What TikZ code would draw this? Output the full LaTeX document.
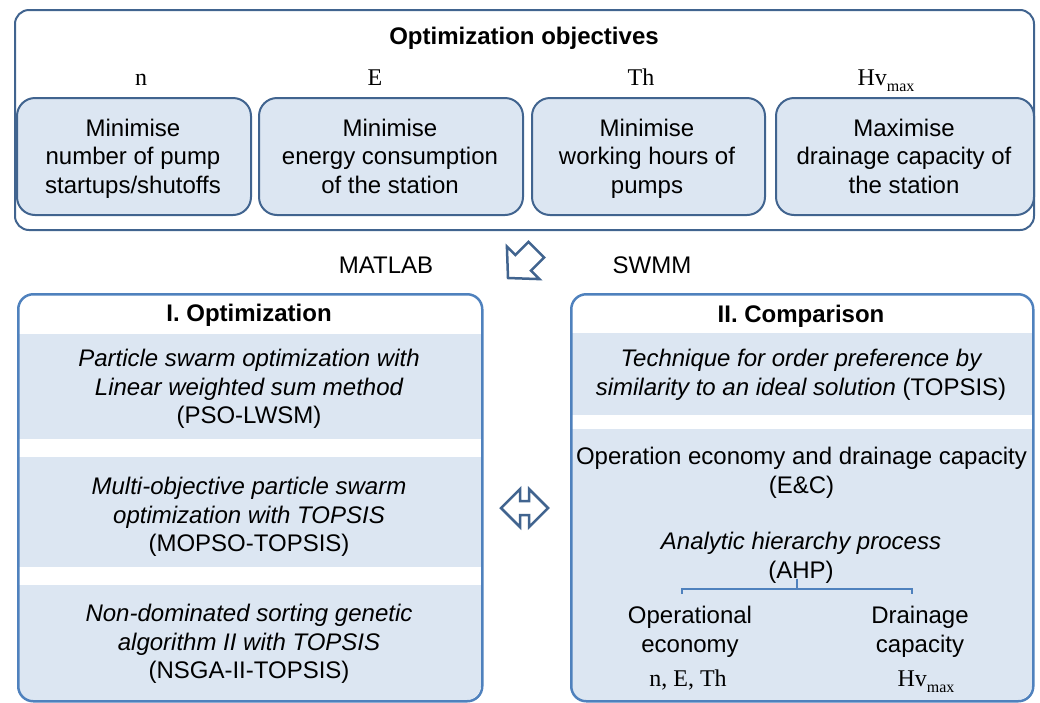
\documentclass[tikz,border=0pt]{standalone}
\usepackage{fontspec}
\setmainfont{Liberation Sans}
\newfontfamily\serifX{Liberation Serif}
\definecolor{dkb}{HTML}{41648F}
\definecolor{ltb}{HTML}{4F81BD}
\definecolor{fillb}{HTML}{DCE6F2}
\newcommand\dfs{\fontsize{24}{28.5}\selectfont}
\newcommand\submax{\raisebox{-0.28em}{\fontsize{16}{16}\selectfont max}}
\begin{document}
\begin{tikzpicture}[x=1pt,y=-1pt,
  txt/.style={font=\dfs, align=center, anchor=base, inner sep=0pt},
  lbl/.style={font=\dfs\serifX, anchor=base, inner sep=0pt},
  outerbox/.style={draw=dkb, line width=2pt, rounded corners=14pt, inner sep=0pt, anchor=north west},
  objbox/.style={draw=dkb, line width=2pt, fill=fillb, rounded corners=18pt, inner sep=0pt, anchor=north west, minimum height=117pt},
  panel/.style={draw=ltb, line width=2.5pt, rounded corners=15pt, inner sep=0pt, anchor=north west},
  blockarrow/.style={draw=dkb, line width=2.5pt, fill=white, line join=miter},
  bracketline/.style={draw=ltb, line width=1.5pt}
]
\useasboundingbox (0,0) rectangle (1040,702);

% ---------- top: optimization objectives ----------
\node[outerbox, minimum width=1019pt, minimum height=220pt] (outer) at (14,9) {};
\node[txt, font=\dfs\bfseries] (objtitle) at (524,44) {Optimization objectives};

\node[objbox, minimum width=234pt] (o1) at (16,97) {};
\node[objbox, minimum width=264pt] (o2) at (258,97) {};
\node[objbox, minimum width=233pt] (o3) at (531,97) {};
\node[objbox, minimum width=258pt] (o4) at (775,97) {};

\node[lbl] (ln) at (141,85) {n};
\node[lbl] (lE) at (375,85) {E};
\node[lbl] (lTh) at (641,85) {Th};
\node[lbl] (lHv) at (886,85) {Hv\submax};

% base anchor of a multi-line node = baseline of its last line
\node[txt] (t1) at (133,193) {Minimise\\number of pump\\startups/shutoffs};
\node[txt] (t2) at (390,193) {Minimise\\energy consumption\\of the station};
\node[txt] (t3) at (647,193) {Minimise\\working hours of\\pumps};
\node[txt] (t4) at (904,193) {Maximise\\drainage capacity of\\the station};

% ---------- middle ----------
\node[txt] (matlab) at (386,273.5) {MATLAB};
\node[txt] (swmm) at (652,273.5) {SWMM};
\draw[blockarrow] (508,278) -- (506.9,246.5) -- (515.4,255.0) -- (528.5,241.9)
  -- (544.1,257.5) -- (531.0,270.6) -- (539.5,279.1) -- cycle;

% ---------- left panel ----------
\begin{scope}
  \clip[rounded corners=15pt] (17,293) rectangle (481,700);
  \fill[fillb] (17,334) rectangle (481,439);
  \fill[fillb] (17,457) rectangle (481,567);
  \fill[fillb] (17,585) rectangle (481,702);
\end{scope}
\node[panel, minimum width=464pt, minimum height=407pt] (optpanel) at (17,293) {};
\node[txt, font=\dfs\bfseries] (opttitle) at (249,321.5) {I. Optimization};
\node[txt] (m1) at (249,423.5) {\itshape Particle swarm optimization with\\\itshape Linear weighted sum method\\(PSO-LWSM)};
\node[txt] (m2) at (249,551.5) {\itshape Multi-objective particle swarm\\\itshape optimization with TOPSIS\\(MOPSO-TOPSIS)};
\node[txt] (m3) at (249,678.5) {\itshape Non-dominated sorting genetic\\\itshape algorithm II with TOPSIS\\(NSGA-II-TOPSIS)};

% ---------- right panel ----------
\begin{scope}
  \clip[rounded corners=15pt] (570,293) rectangle (1032,700);
  \fill[fillb] (570,333) rectangle (1032,415);
  \fill[fillb] (570,429) rectangle (1032,702);
\end{scope}
\node[panel, minimum width=462pt, minimum height=407pt] (cmppanel) at (570,293) {};
\node[txt, font=\dfs\bfseries] (cmptitle) at (801,322.5) {II. Comparison};
\node[txt] (c1) at (801,395) {\itshape Technique for order preference by\\\textit{similarity to an ideal solution} (TOPSIS)};
\node[txt] (c2) at (801.5,493) {Operation economy and drainage capacity\\(E\&C)};
\node[txt] (ahp) at (801,578) {\itshape Analytic hierarchy process\\(AHP)};
\node[txt] (oe) at (690,652) {Operational\\economy};
\node[txt] (dc) at (920,652) {Drainage\\capacity};
\node[lbl] (oevars) at (688,686) {n, E, Th};
\node[lbl] (dcvars) at (926,686) {Hv\submax};

\coordinate (bt) at (797,579);
\coordinate (bm) at (797,589);
\coordinate (bl) at (682,589);
\coordinate (blend) at (682,594);
\coordinate (br) at (912,589);
\coordinate (brend) at (912,594);
\draw[bracketline] (bt) -- (bm);
\draw[bracketline] (blend) -- (bl) -- (br) -- (brend);

% double arrow between panels
\draw[blockarrow] (501,508) -- (520,489) -- (520,501) -- (529,501) -- (529,489)
  -- (548,508) -- (529,527) -- (529,515) -- (520,515) -- (520,527) -- cycle;
\end{tikzpicture}
\end{document}
